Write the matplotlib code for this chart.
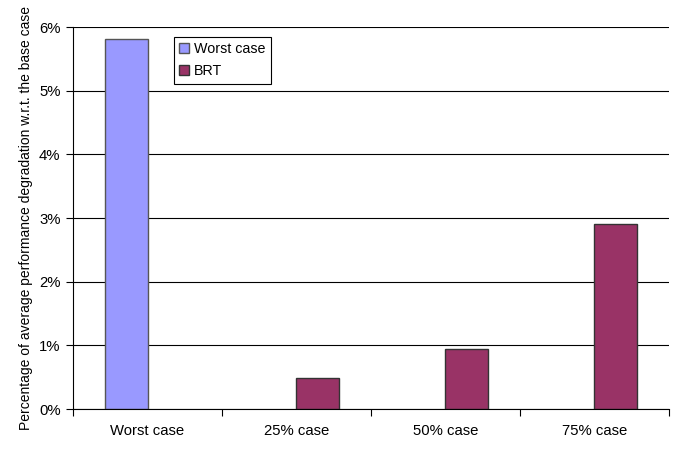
import numpy as np
import matplotlib.pyplot as plt
from matplotlib.ticker import FuncFormatter

plt.rcParams['font.family'] = ['Liberation Sans', 'DejaVu Sans']

categories = ['Worst case', '25% case', '50% case', '75% case']
worst_case = [5.81, np.nan, np.nan, np.nan]
brt = [np.nan, 0.49, 0.95, 2.91]

x = np.arange(len(categories))
w = 1 / 3.5  # two series, gap width 150%

fig = plt.figure(figsize=(6.73, 4.66), dpi=100)
ax = fig.add_axes([0.1085, 0.1223, 0.8855, 0.8197])

ax.set_axisbelow(True)
ax.yaxis.grid(True, color='black', linewidth=0.8)

wc = np.array(worst_case)
br = np.array(brt)
m1 = ~np.isnan(wc)
m2 = ~np.isnan(br)
ax.bar(x[m1] - w / 2, wc[m1], w, color='#9999FF', edgecolor='#555555',
       linewidth=1, label='Worst case')
ax.bar(x[m2] + w / 2, br[m2], w, color='#993366', edgecolor='#333333',
       linewidth=1, label='BRT')

ax.set_xlim(-0.5, len(categories) - 0.5)
ax.set_ylim(0, 6)
ax.set_yticks(range(0, 7))
ax.yaxis.set_major_formatter(FuncFormatter(lambda v, p: f'{v:.0f}%'))
ax.set_xticks(x)
ax.set_xticklabels(categories)
ax.set_xticks(np.arange(-0.5, len(categories)), minor=True)
ax.tick_params(axis='x', which='major', length=0, pad=11, labelsize=10.7)
ax.tick_params(axis='x', which='minor', length=5, width=0.8, direction='out')
ax.tick_params(axis='y', length=5, width=0.8, direction='out', pad=4, labelsize=10.7)

for s in ['top', 'right']:
    ax.spines[s].set_visible(False)
ax.spines['left'].set_linewidth(0.8)
ax.spines['bottom'].set_linewidth(0.8)

ax.set_ylabel('Percentage of average performance degradation w.r.t. the base case',
              fontsize=10, labelpad=4)

leg = ax.legend(loc='upper left', bbox_to_anchor=(0.169, 0.975), fancybox=False,
                edgecolor='black', framealpha=1, fontsize=10.3, handlelength=0.7,
                handleheight=0.7, handletextpad=0.3, borderpad=0.4,
                labelspacing=0.55, borderaxespad=0)
leg.get_frame().set_linewidth(0.8)

fig.savefig('out.png', dpi=100)
